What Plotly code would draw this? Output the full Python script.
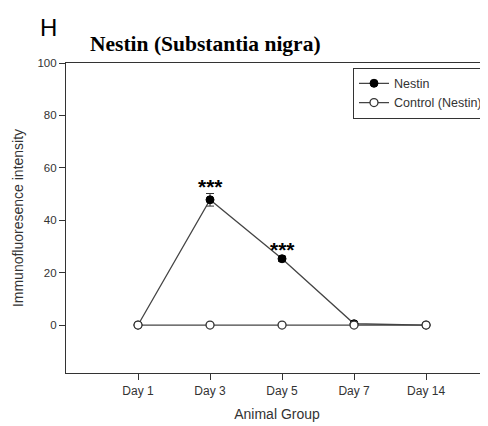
import plotly.graph_objects as go

categories = ["Day 1", "Day 3", "Day 5", "Day 7", "Day 14"]
nestin = [0, 47.8, 25.3, 0.5, 0]
nestin_err = [0, 2.4, 1.0, 0.3, 0]
control = [0, 0, 0, 0, 0]
star_labels = ["", "***", "***", "", ""]
star_y = [None, 53.0, 28.8, None, None]

x_idx = list(range(len(categories)))
font_sans = "Liberation Sans, Arial, sans-serif"
txt = "#333333"

fig = go.Figure()
fig.add_trace(go.Scatter(
    x=x_idx, y=nestin, name="Nestin", mode="lines+markers",
    line=dict(color="#444444", width=1.3),
    marker=dict(symbol="circle", size=8, color="black", line=dict(color="black", width=1)),
    error_y=dict(type="data", array=nestin_err, color="#333333", thickness=1, width=4),
))
fig.add_trace(go.Scatter(
    x=x_idx, y=control, name="Control (Nestin)", mode="lines+markers",
    line=dict(color="#444444", width=1.3),
    marker=dict(symbol="circle", size=8, color="white", line=dict(color="#333333", width=1.3)),
))

for i, (lab, yy) in enumerate(zip(star_labels, star_y)):
    if lab:
        fig.add_annotation(x=x_idx[i], y=yy, text="<b>" + lab + "</b>", showarrow=False,
                           font=dict(family="Liberation Sans, Arial", size=21, color="black"),
                           xref="x", yref="y")

fig.add_annotation(x=-0.066, y=1.115, xref="paper", yref="paper", text="H", showarrow=False,
                   xanchor="left", yanchor="middle",
                   font=dict(family=font_sans, size=24, color="black"))
fig.add_annotation(x=0.052, y=1.06, xref="paper", yref="paper",
                   text="<b>Nestin (Substantia nigra)</b>", showarrow=False,
                   xanchor="left", yanchor="middle",
                   font=dict(family="Liberation Serif, Times New Roman, serif", size=21.5, color="black"))

fig.update_layout(
    width=480, height=418,
    margin=dict(l=58, r=0, t=55, b=53),
    paper_bgcolor="white", plot_bgcolor="white",
    showlegend=True,
    legend=dict(x=1.0, y=0.985, xanchor="right", yanchor="top",
                bordercolor="#333333", borderwidth=1, bgcolor="white",
                font=dict(family=font_sans, size=12.5, color=txt),
                tracegroupgap=0, itemwidth=30),
    xaxis=dict(
        range=[-1, 4.86], tickvals=x_idx, ticktext=categories,
        showline=True, linecolor="#333333", linewidth=1.2, mirror=True,
        ticks="outside", ticklen=6, tickcolor="#333333",
        showgrid=False, zeroline=False, automargin=False,
        tickfont=dict(family=font_sans, size=12, color=txt),
        title=dict(text="Animal Group", font=dict(family=font_sans, size=14, color=txt), standoff=12),
    ),
    yaxis=dict(
        range=[-18.3, 100], tickvals=[0, 20, 40, 60, 80, 100],
        showline=True, linecolor="#333333", linewidth=1.2,
        ticks="outside", ticklen=6, tickcolor="#333333",
        showgrid=False, zeroline=False, automargin=False,
        tickfont=dict(family=font_sans, size=11.5, color=txt),
        title=dict(text="Immunofluoresence intensity", font=dict(family=font_sans, size=14, color=txt), standoff=10),
    ),
)

fig.write_html("out.html")
